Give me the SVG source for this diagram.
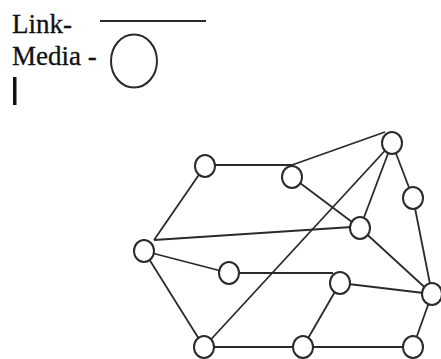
<svg xmlns="http://www.w3.org/2000/svg" width="441" height="359" viewBox="0 0 441 359">
<style>
.lbl{font-family:"Liberation Serif","Times New Roman",serif;font-size:27px;fill:#111;stroke:#111;stroke-width:0.3}
.edge{stroke:#2a2a2a;stroke-width:1.8;fill:none}
.node{fill:#fff;stroke:#2a2a2a;stroke-width:2}
</style>
<rect width="441" height="359" fill="#fff"/>
<g id="legend">
<text class="lbl" x="12" y="33" font-family="Liberation Serif, serif">Link-</text>
<text class="lbl" x="12" y="65" font-family="Liberation Serif, serif">Media -</text>
<line class="edge" x1="100" y1="21" x2="206" y2="21" stroke-width="2"/>
<ellipse class="node" cx="134" cy="61" rx="23" ry="26.5"/>
<rect x="13" y="77" width="3.5" height="28" fill="#111"/>
</g>
<g id="connectors">
<line class="edge" x1="215" y1="165" x2="292" y2="165"/>
<line class="edge" x1="292" y1="165" x2="385" y2="132"/>
<line class="edge" x1="292" y1="177" x2="360" y2="228"/>
<line class="edge" x1="392" y1="143" x2="360" y2="228"/>
<line class="edge" x1="392" y1="143" x2="204" y2="347"/>
<line class="edge" x1="392" y1="143" x2="413" y2="198"/>
<line class="edge" x1="413" y1="198" x2="432" y2="294"/>
<line class="edge" x1="154" y1="240" x2="205" y2="166"/>
<line class="edge" x1="154" y1="240" x2="352" y2="227"/>
<line class="edge" x1="360" y1="228" x2="432" y2="294"/>
<line class="edge" x1="144" y1="251" x2="229" y2="273"/>
<line class="edge" x1="239" y1="273" x2="333" y2="273"/>
<line class="edge" x1="340" y1="283" x2="432" y2="294"/>
<line class="edge" x1="340" y1="283" x2="303" y2="347"/>
<line class="edge" x1="144" y1="251" x2="204" y2="347"/>
<line class="edge" x1="214" y1="347" x2="293" y2="347"/>
<line class="edge" x1="303" y1="347" x2="413" y2="347"/>
<line class="edge" x1="413" y1="347" x2="432" y2="294"/>
</g>
<g id="nA"><ellipse class="node" cx="205" cy="166" rx="10" ry="11"/></g>
<g id="nB"><ellipse class="node" cx="292" cy="177" rx="10" ry="11"/></g>
<g id="nC"><ellipse class="node" cx="392" cy="143" rx="10" ry="11"/></g>
<g id="nD"><ellipse class="node" cx="413" cy="198" rx="10" ry="11"/></g>
<g id="nE"><ellipse class="node" cx="360" cy="228" rx="10" ry="11"/></g>
<g id="nF"><ellipse class="node" cx="144" cy="251" rx="10" ry="11"/></g>
<g id="nG"><ellipse class="node" cx="229" cy="273" rx="10" ry="11"/></g>
<g id="nH"><ellipse class="node" cx="340" cy="283" rx="10" ry="11"/></g>
<g id="nI"><ellipse class="node" cx="432" cy="294" rx="10" ry="11"/></g>
<g id="nJ"><ellipse class="node" cx="204" cy="347" rx="10" ry="11"/></g>
<g id="nK"><ellipse class="node" cx="303" cy="347" rx="10" ry="11"/></g>
<g id="nL"><ellipse class="node" cx="413" cy="347" rx="10" ry="11"/></g>
</svg>
